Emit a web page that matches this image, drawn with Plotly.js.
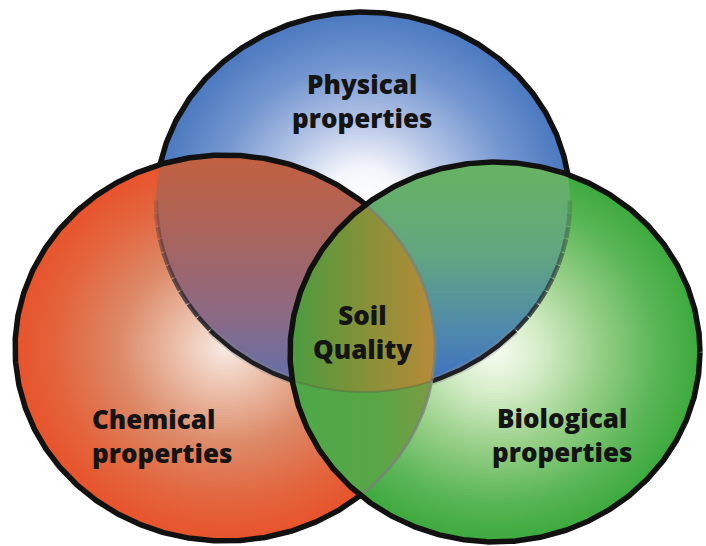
<!DOCTYPE html>
<html><head><meta charset="utf-8">
<script src="https://cdn.plot.ly/plotly-3.0.1.min.js"></script>
<style>html,body{margin:0;padding:0;background:#fff}</style>
</head><body>
<div id="chart" style="width:706px;height:546px"></div>
<script>
// ---- data ----
const setNames = ['Physical', 'Chemical', 'Biological'];
const setLabels = ['Physical<br>properties', 'Chemical<br>properties', 'Biological<br>properties'];
const intersectionLabel = 'Soil<br>Quality';

// ---- layout / geometry (pixel-like data coordinates) ----
const GEOM = [
  {cx: 363, cy: 202, rx: 207, ry: 190},  // Physical (blue)
  {cx: 225, cy: 348, rx: 210, ry: 193},  // Chemical (red)
  {cx: 495, cy: 352, rx: 205, ry: 190}   // Biological (green)
];
const LABELPOS = [
  {x: 362, y: 101, xanchor: 'center', align: 'center'},
  {x: 90, y: 436, xanchor: 'left', align: 'left'},
  {x: 562, y: 435, xanchor: 'center', align: 'center'}
];
const CENTERPOS = {x: 362, y: 332};

const B = 0, R = 1, G = 2;
const N = 1440;

function ellipsePts(g) {
  const x = [], y = [];
  for (let k = 0; k <= N; k++) {
    const t = 2 * Math.PI * k / N;
    x.push(g.cx + g.rx * Math.cos(t));
    y.push(g.cy + g.ry * Math.sin(t));
  }
  return {x, y};
}
function inside(i, x, y) {
  const g = GEOM[i];
  return ((x - g.cx) / g.rx) ** 2 + ((y - g.cy) / g.ry) ** 2 <= 1 + 1e-9;
}
function region(ids) {
  const pts = [];
  ids.forEach(i => {
    const e = ellipsePts(GEOM[i]);
    for (let k = 0; k < N; k++) {
      if (ids.every(j => j === i || inside(j, e.x[k], e.y[k]))) pts.push([e.x[k], e.y[k]]);
    }
  });
  const mx = pts.reduce((s, p) => s + p[0], 0) / pts.length;
  const my = pts.reduce((s, p) => s + p[1], 0) / pts.length;
  pts.sort((a, b) => Math.atan2(a[1] - my, a[0] - mx) - Math.atan2(b[1] - my, b[0] - mx));
  pts.push(pts[0]);
  return {x: pts.map(p => p[0]), y: pts.map(p => p[1])};
}
function arc(i, cond) {
  const e = ellipsePts(GEOM[i]);
  const x = [], y = [];
  let start = 0;
  for (let k = 0; k < N; k++) { if (!cond(e.x[k], e.y[k])) { start = k; break; } }
  for (let m = 0; m <= N; m++) {
    const k = (start + m) % N;
    if (cond(e.x[k], e.y[k])) { x.push(e.x[k]); y.push(e.y[k]); }
    else { x.push(null); y.push(null); }
  }
  return {x, y};
}

function fillTrace(pts, grad) {
  return {type: 'scatter', mode: 'lines', x: pts.x, y: pts.y, fill: 'toself',
    line: {width: 0, color: 'rgba(0,0,0,0)'}, fillgradient: grad, hoverinfo: 'skip', showlegend: false};
}
function lineTrace(pts, color, width) {
  return {type: 'scatter', mode: 'lines', x: pts.x, y: pts.y, connectgaps: false,
    line: {color: color, width: width}, hoverinfo: 'skip', showlegend: false};
}

const traces = [];
// base circles
traces.push(fillTrace(ellipsePts(GEOM[B]), {type: 'radial', colorscale: [
  [0, '#ffffff'], [0.18, '#f4f6fc'], [0.42, '#b7c6e7'], [0.72, '#7396d0'], [1, '#4a78bf']]}));
traces.push(fillTrace(ellipsePts(GEOM[R]), {type: 'radial', colorscale: [
  [0, '#f8ebe4'], [0.2, '#edc4b0'], [0.5, '#dd8a68'], [0.8, '#e3643c'], [1, '#e8532b']]}));
traces.push(fillTrace(ellipsePts(GEOM[G]), {type: 'radial', colorscale: [
  [0, '#f7fcf3'], [0.22, '#d6edc9'], [0.5, '#98d088'], [0.8, '#58b555'], [1, '#3ca93c']]}));
// pairwise overlaps
traces.push(fillTrace(region([R, B]), {type: 'vertical', start: 150, stop: 392, colorscale: [
  [0, '#c4603e'], [0.35, '#a9645c'], [0.7, '#8a6a86'], [1, '#5a70b0']]}));
traces.push(fillTrace(region([B, G]), {type: 'vertical', start: 160, stop: 392, colorscale: [
  [0, '#66b460'], [0.4, '#62a680'], [0.75, '#4d88ae'], [1, '#3b6cc4']]}));
traces.push(fillTrace(region([R, G]), {type: 'horizontal', start: 290, stop: 436, colorscale: [
  [0, '#4ea847'], [0.6, '#58a646'], [1, '#7e9a42']]}));
traces.push(fillTrace(region([R, B, G]), {type: 'horizontal', start: 292, stop: 436, colorscale: [
  [0, '#4c9c40'], [0.45, '#7f9238'], [1, '#b88a38']]}));

// outlines
const inR = (x, y) => inside(R, x, y), inG = (x, y) => inside(G, x, y);
const oneOf = (x, y) => inR(x, y) !== inG(x, y);
traces.push(lineTrace(arc(B, (x, y) => inR(x, y) && inG(x, y)), 'rgba(90,100,70,0.4)', 2));
// blue arc seen through red / green: soft at the top, dark lower down
const steps = 10, y0 = 200, y1 = 330;
for (let s = 0; s < steps; s++) {
  const a = y0 + (y1 - y0) * s / steps, b = y0 + (y1 - y0) * (s + 1) / steps;
  const alpha = 0.12 + 0.78 * (s + 0.5) / steps;
  traces.push(lineTrace(arc(B, (x, y) => oneOf(x, y) && y >= a && y < b),
    'rgba(30,30,38,' + alpha.toFixed(3) + ')', 4.5));
}
traces.push(lineTrace(arc(B, (x, y) => oneOf(x, y) && y >= y1), 'rgba(140,140,140,0.35)', 8));
traces.push(lineTrace(arc(B, (x, y) => oneOf(x, y) && y >= y1), '#1e1e24', 4.5));
traces.push(lineTrace(arc(B, (x, y) => !inR(x, y) && !inG(x, y)), '#111111', 5.5));
traces.push(lineTrace(arc(R, (x, y) => inG(x, y)), 'rgba(120,130,120,0.75)', 3));
traces.push(lineTrace(arc(R, (x, y) => !inG(x, y)), '#111111', 5.5));
traces.push(lineTrace(ellipsePts(GEOM[G]), '#111111', 5.5));

const font = {family: 'Open Sans, Noto Sans, sans-serif', size: 26, color: '#141414', weight: 800};
const annotations = setLabels.map((t, i) => ({
  text: t, x: LABELPOS[i].x, y: LABELPOS[i].y, xref: 'x', yref: 'y',
  xanchor: LABELPOS[i].xanchor, yanchor: 'middle', align: LABELPOS[i].align,
  showarrow: false, font: font
}));
annotations.push({text: intersectionLabel, x: CENTERPOS.x, y: CENTERPOS.y, xref: 'x', yref: 'y',
  xanchor: 'center', yanchor: 'middle', align: 'center', showarrow: false, font: font});

const layout = {
  width: 706, height: 546,
  margin: {l: 0, r: 0, t: 0, b: 0},
  paper_bgcolor: '#ffffff', plot_bgcolor: '#ffffff',
  xaxis: {range: [0, 706], visible: false, fixedrange: true},
  yaxis: {range: [546, 0], visible: false, fixedrange: true},
  showlegend: false, hovermode: false,
  annotations: annotations
};
Plotly.newPlot('chart', traces, layout, {staticPlot: true, displayModeBar: false});
</script>
</body></html>
